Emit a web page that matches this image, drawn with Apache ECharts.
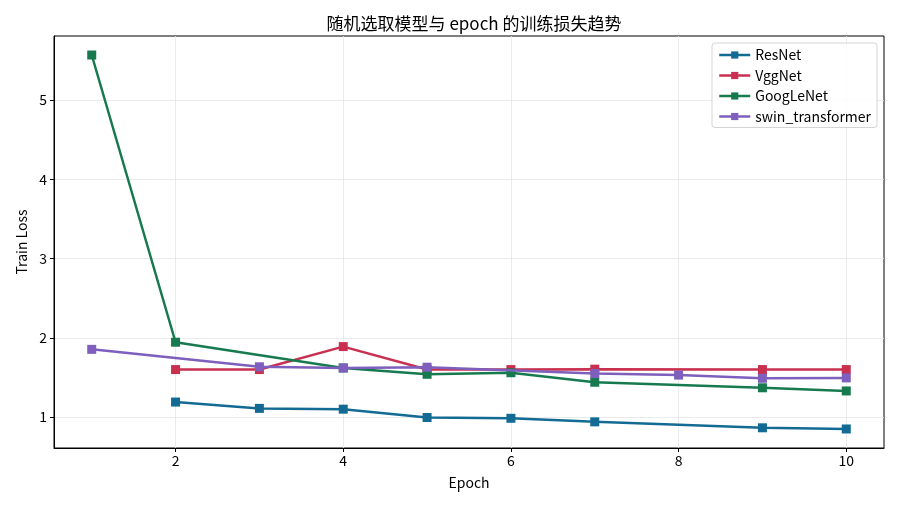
<!DOCTYPE html>
<html>
<head>
<meta charset="utf-8">
<script src="https://cdn.jsdelivr.net/npm/echarts@6/dist/echarts.min.js"></script>
<style>
html,body{margin:0;padding:0;background:#fff;}
#c{width:900px;height:506px;}
</style>
</head>
<body>
<div id="c"></div>
<script>
const titleText = '随机选取模型与 epoch 的训练损失趋势';
const seriesNames = ['ResNet', 'VggNet', 'GoogLeNet', 'swin_transformer'];
const seriesColors = ['#136b94', '#c9304f', '#177a4f', '#7e5fbd'];

const resnetEpochs = [2, 3, 4, 5, 6, 7, 9, 10];
const resnetLoss = [1.19, 1.11, 1.10, 0.995, 0.985, 0.94, 0.865, 0.85];

const vggEpochs = [2, 3, 4, 5, 6, 7, 9, 10];
const vggLoss = [1.60, 1.60, 1.89, 1.60, 1.60, 1.605, 1.60, 1.60];

const googleEpochs = [1, 2, 4, 5, 6, 7, 9, 10];
const googleLoss = [5.57, 1.945, 1.62, 1.54, 1.56, 1.44, 1.37, 1.33];

const swinEpochs = [1, 3, 4, 5, 7, 8, 9, 10];
const swinLoss = [1.855, 1.635, 1.62, 1.63, 1.55, 1.53, 1.49, 1.495];

const xTicks = [2, 4, 6, 8, 10];
const yTicks = [1, 2, 3, 4, 5];

const allEpochs = [resnetEpochs, vggEpochs, googleEpochs, swinEpochs];
const allLoss = [resnetLoss, vggLoss, googleLoss, swinLoss];

const font = '"Noto Sans CJK SC", "Noto Sans", sans-serif';

const chart = echarts.init(document.getElementById('c'), null, {renderer: 'canvas'});
chart.setOption({
  animation: false,
  backgroundColor: '#fff',
  textStyle: {fontFamily: font},
  title: {
    text: titleText,
    left: 469, textAlign: 'center',
    top: 10,
    textStyle: {fontSize: 17, fontWeight: 'normal', color: '#000', fontFamily: font}
  },
  legend: {
    orient: 'vertical',
    right: 23, top: 43,
    data: seriesNames,
    itemWidth: 31, itemHeight: 9, itemGap: 6.5,
    padding: [5, 6, 4, 6],
    borderColor: '#d4d4d4', borderWidth: 1, borderRadius: 3,
    backgroundColor: 'rgba(255,255,255,0.85)',
    lineStyle: {width: 2.5},
    textStyle: {fontSize: 14, color: '#000', fontFamily: font}
  },
  grid: {
    left: 54, right: 16, top: 36, bottom: 58,
    show: true, borderColor: '#000', borderWidth: 1, backgroundColor: 'transparent'
  },
  xAxis: {
    type: 'value', min: 0.55, max: 10.45,
    name: 'Epoch', nameLocation: 'middle', nameGap: 28,
    nameTextStyle: {fontSize: 14, color: '#000', fontFamily: font},
    axisLine: {show: true, onZero: false, lineStyle: {color: '#000', width: 1}},
    axisTick: {show: true, customValues: xTicks, length: 4, lineStyle: {color: '#000'}},
    axisLabel: {customValues: xTicks, fontSize: 14, color: '#000', margin: 6, fontFamily: font},
    splitLine: {show: true, lineStyle: {color: '#e6e6e6', width: 0.8}}
  },
  yAxis: {
    type: 'value', min: 0.61, max: 5.81,
    name: 'Train Loss', nameLocation: 'middle', nameGap: 24,
    nameTextStyle: {fontSize: 14, color: '#000', fontFamily: font},
    axisLine: {show: true, onZero: false, lineStyle: {color: '#000', width: 1}},
    axisTick: {show: true, customValues: yTicks, length: 4, lineStyle: {color: '#000'}},
    axisLabel: {customValues: yTicks, fontSize: 14, color: '#000', margin: 7, fontFamily: font},
    splitLine: {show: true, lineStyle: {color: '#e6e6e6', width: 0.8}}
  },
  series: seriesNames.map((name, i) => ({
    name: name,
    type: 'line',
    data: allEpochs[i].map((e, j) => [e, allLoss[i][j]]),
    symbol: 'rect', symbolSize: 9,
    showAllSymbol: true,
    color: seriesColors[i],
    lineStyle: {width: 2.5, color: seriesColors[i]},
    itemStyle: {color: seriesColors[i]},
    z: 2 + i
  }))
});
</script>
</body>
</html>
